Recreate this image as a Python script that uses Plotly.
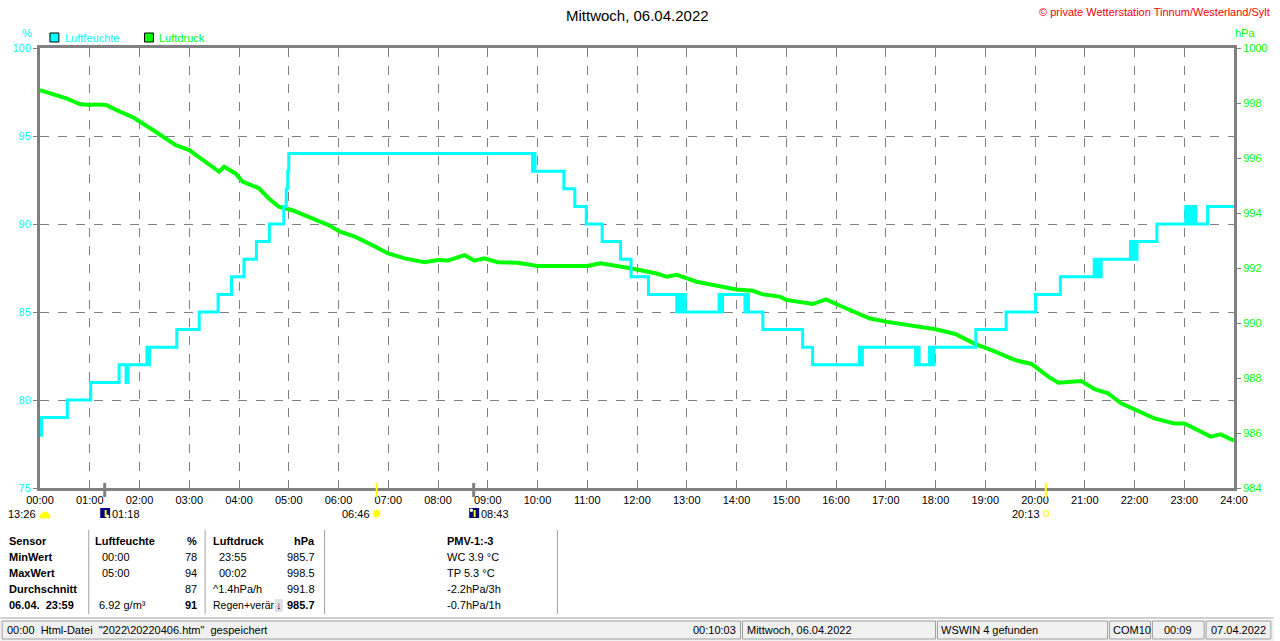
import math
import plotly.graph_objects as go

# humidity (%) - step changes, hour of day -> value
hum_hours = [0.0, 0.03, 0.55, 1.02, 1.59, 1.73, 1.77, 2.15, 2.18, 2.2, 2.75, 3.2, 3.58,
             3.85, 4.1, 4.35, 4.61, 4.9, 4.95, 4.98, 5.0, 9.9, 9.92, 9.95, 10.53, 10.75,
             10.98, 11.3, 11.67, 11.88, 12.23, 12.8, 12.84, 12.88, 12.93, 12.97, 13.65,
             13.68, 13.72, 14.17, 14.2, 14.24, 14.53, 15.33, 15.53, 16.47, 16.5, 16.53,
             17.6, 17.63, 17.67, 17.88, 17.92, 17.97, 18.81, 19.42, 20.01, 20.51, 21.19,
             21.23, 21.28, 21.3, 21.33, 21.92, 21.96, 22.0, 22.03, 22.05, 22.45, 23.03,
             23.07, 23.1, 23.15, 23.2, 23.23, 23.47, 24.0]
hum_vals = [78, 79, 80, 81, 82, 81, 82, 83, 82, 83, 84, 85, 86,
            87, 88, 89, 90, 91, 92, 93, 94, 93, 94, 93, 92, 91,
            90, 89, 88, 87, 86, 85, 86, 85, 86, 85, 86,
            85, 86, 85, 86, 85, 84, 83, 82, 83, 82, 83,
            82, 83, 82, 83, 82, 83, 84, 85, 86, 87, 88,
            87, 88, 87, 88, 89, 88, 89, 88, 89, 90, 91,
            90, 91, 90, 91, 90, 91, 91]

# air pressure (hPa)
pres_hours = [0.0, 0.2, 0.53, 0.8, 1.0, 1.13, 1.33, 1.53, 1.87, 2.27, 2.73, 3.0, 3.33,
              3.6, 3.7, 3.93, 4.07, 4.4, 4.6, 4.8, 5.07, 5.47, 5.8, 6.03, 6.33, 6.67,
              7.0, 7.33, 7.73, 8.0, 8.2, 8.53, 8.73, 8.93, 9.2, 9.6, 9.93, 10.0, 11.0,
              11.27, 11.87, 12.4, 12.6, 12.8, 13.2, 13.53, 14.0, 14.33, 14.53, 14.87,
              15.0, 15.53, 15.8, 16.13, 16.4, 16.67, 17.0, 17.4, 18.0, 18.4, 18.77,
              19.2, 19.6, 19.93, 20.27, 20.47, 20.93, 21.2, 21.47, 21.73, 22.0, 22.4,
              22.8, 23.0, 23.2, 23.53, 23.73, 23.97, 24.0]
pres_vals = [998.47, 998.35, 998.17, 997.96, 997.93, 997.95, 997.93, 997.75, 997.48,
             997.02, 996.47, 996.29, 995.87, 995.5, 995.68, 995.44, 995.14, 994.9,
             994.53, 994.23, 994.1, 993.8, 993.56, 993.32, 993.14, 992.84, 992.53,
             992.35, 992.21, 992.29, 992.27, 992.47, 992.27, 992.35, 992.21, 992.19,
             992.08, 992.07, 992.07, 992.17, 991.99, 991.8, 991.68, 991.75, 991.5,
             991.38, 991.22, 991.17, 991.04, 990.96, 990.84, 990.69, 990.86, 990.59,
             990.38, 990.17, 990.05, 989.93, 989.77, 989.6, 989.26, 988.96, 988.65,
             988.51, 988.05, 987.83, 987.89, 987.59, 987.44, 987.08, 986.86, 986.53,
             986.35, 986.35, 986.17, 985.87, 985.95, 985.75, 985.72]

hour_ticks = list(range(0, 25))
hour_labels = ["%02d:00" % h for h in hour_ticks]

# sun / moon events (hours)
moonrise_hours = [1.3, 8.717]
moonrise_labels = ["01:18", "08:43"]
sunrise_hour, sunrise_label = 6.767, "06:46"
sunset_hour, sunset_label = 20.217, "20:13"
moonset_label = "13:26"

# table
row_heads = ["Sensor", "MinWert", "MaxWert", "Durchschnitt", "06.04.  23:59"]
hum_times = ["Luftfeuchte", "00:00", "05:00", "", "6.92 g/m³"]
hum_cells = ["%", "78", "94", "87", "91"]
pres_times = ["Luftdruck", "23:55", "00:02", "^1.4hPa/h", "Regen+verär"]
pres_cells = ["hPa", "985.7", "998.5", "991.8", "985.7"]
pmv_cells = ["PMV-1:-3", "WC 3.9 °C", "TP 5.3 °C", "-2.2hPa/3h", "-0.7hPa/1h"]

status_texts = ["00:00\u00a0 Html-Datei\u00a0 \"2022\\20220406.htm\"\u00a0 gespeichert",
                "00:10:03", "Mittwoch, 06.04.2022", "WSWIN 4 gefunden", "COM10",
                "00:09", "07.04.2022"]

CYAN = "#00ffff"
GREEN = "#00ff00"
GRAY = "#808080"
FONT = "Liberation Sans, Arial, sans-serif"


def fx(p):
    return (p - 40) / 1200.0


def fy(p):
    return (488 - p) / 440.0


fig = go.Figure()
fig.add_trace(go.Scatter(x=pres_hours, y=pres_vals, mode="lines", yaxis="y",
                         line=dict(color=GREEN, width=4), showlegend=False))
fig.add_trace(go.Scatter(x=hum_hours, y=hum_vals, mode="lines", yaxis="y2",
                         line=dict(color=CYAN, width=3, shape="hv"), showlegend=False))

ann = []
shapes = []


def text(x, y, s, color="black", size=11, anchor="left", bold=False):
    ann.append(dict(x=fx(x), y=fy(y), xref="paper", yref="paper", showarrow=False,
                    text="<b>%s</b>" % s if bold else s, xanchor=anchor, yanchor="middle",
                    borderpad=0, font=dict(family=FONT, size=size, color=color)))


def rect(x0, y0, x1, y1, fill=None, line=None, lw=1):
    shapes.append(dict(type="rect", xref="paper", yref="paper",
                       x0=fx(x0), x1=fx(x1), y0=fy(y0), y1=fy(y1),
                       fillcolor=fill or "rgba(0,0,0,0)",
                       line=dict(color=line or "rgba(0,0,0,0)", width=lw if line else 0)))


def seg(x0, y0, x1, y1, color, w=1):
    shapes.append(dict(type="line", xref="paper", yref="paper",
                       x0=fx(x0), x1=fx(x1), y0=fy(y0), y1=fy(y1),
                       line=dict(color=color, width=w)))


# header texts
text(641, 15, "Mittwoch, 06.04.2022", size=15, anchor="center")
text(1277, 12, "© private Wetterstation Tinnum/Westerland/Sylt", color="#ff0000", anchor="right")
text(27, 33, "%", color=CYAN, anchor="center")
text(1240, 33, "hPa", color=GREEN)
rect(50, 33, 59, 42, fill=CYAN, line="black")
text(64, 38, "Luftfeuchte", color=CYAN)
rect(145, 33, 154, 42, fill=GREEN, line="black")
text(159, 38, "Luftdruck", color=GREEN)

# event markers on time axis
for h in moonrise_hours:
    shapes.append(dict(type="line", xref="x", yref="paper", x0=h, x1=h,
                       y0=fy(483), y1=fy(497), line=dict(color=GRAY, width=3)))
for h in (sunrise_hour, sunset_hour):
    shapes.append(dict(type="line", xref="x", yref="paper", x0=h, x1=h,
                       y0=fy(483), y1=fy(497), line=dict(color="#ffff00", width=2)))

# moonset-like icon below 00:00
arc = " ".join("L%.5f,%.5f" % (fx(45 + 5 * math.cos(a * math.pi / 12)),
                               fy(518 - 6 * math.sin(a * math.pi / 12))) for a in range(13))
shapes.append(dict(type="path", xref="paper", yref="paper", path="M" + arc[1:] + " Z",
                   fillcolor="#ffff00", line=dict(color="#ffff00", width=1)))
text(37, 514, moonset_label, anchor="right")

# moon icons
for i, h in enumerate(moonrise_hours):
    px = 40 + h * 50
    rect(px - 4.5, 508, px + 5.5, 518, fill="#000080")
    shapes.append(dict(type="circle", xref="paper", yref="paper",
                       x0=fx(px - 4 if i else px + 1), x1=fx(px - 0.5 if i else px + 4.5),
                       y0=fy(512 if i else 518), y1=fy(508.5 if i else 514.5),
                       fillcolor="white", line=dict(width=0)))
    seg(px + 1, 510, px + 1, 517, "#ffff00", 2)
    text(px + 6, 514, moonrise_labels[i])

# sun icon
sx = 40 + sunrise_hour * 50
for k in range(8):
    a = k * math.pi / 4
    seg(sx + 2.5 * math.cos(a), 513.5 + 2.5 * math.sin(a),
        sx + 5.5 * math.cos(a), 513.5 + 5.5 * math.sin(a), "#ffff80", 1)
shapes.append(dict(type="circle", xref="paper", yref="paper", x0=fx(sx - 3.5), x1=fx(sx + 3.5),
                   y0=fy(517), y1=fy(510), fillcolor="#ffff00", line=dict(width=0)))
text(sx - 6, 514, sunrise_label, anchor="right")

# sunset icon
ssx = 40 + sunset_hour * 50
rect(ssx - 2, 511, ssx + 2.5, 516, line="#ffff00")
text(ssx - 5, 514, sunset_label, anchor="right")

# table
row_y = [541, 557, 573, 589, 605]
for xs in (89, 206, 326, 560):
    seg(xs, 530, xs, 614, "#a0a0a0", 1)
for i, y in enumerate(row_y):
    text(8, y, row_heads[i], bold=True)
    head = i == 0
    text(94 if head else (98 if i == 4 else 101), y, hum_times[i], bold=head)
    text(199, y, hum_cells[i], anchor="right", bold=head or i == 4)
    text(213 if head or i >= 3 else 219, y, pres_times[i], bold=head,
         size=10.5 if i == 4 else 11)
    text(317, y, pres_cells[i], anchor="right", bold=head or i == 4)
    text(448, y, pmv_cells[i], bold=head)
rect(276, 599, 284, 612, fill="#e0e0e0")
text(280, 605, "↓", color="#000080", anchor="center", bold=True)

# status bar
seg(0, 618, 1280, 618, "#a0a0a0", 1)
rect(0, 620, 1280, 641, fill="#f0f0f0")
panels = [(2, 744), (746, 940), (942, 1113), (1115, 1156), (1158, 1210), (1212, 1277)]
for x0, x1 in panels:
    rect(x0, 621, x1, 639, line="#a0a0a0")
text(6, 630, status_texts[0])
text(741, 630, status_texts[1], anchor="right")
text(750, 630, status_texts[2])
text(945, 630, status_texts[3])
text(1117, 630, status_texts[4])
text(1184, 630, status_texts[5], anchor="center")
text(1245, 630, status_texts[6], anchor="center")

fig.update_layout(
    width=1280, height=641,
    margin=dict(l=40, r=40, t=48, b=153),
    paper_bgcolor="white", plot_bgcolor="white",
    font=dict(family=FONT, size=11, color="black"),
    showlegend=False,
    xaxis=dict(range=[0, 24], tickvals=hour_ticks, ticktext=hour_labels,
               showgrid=True, gridcolor=GRAY, griddash="dash", gridwidth=1,
               showline=True, linecolor=GRAY, linewidth=3, mirror=True,
               ticks="", zeroline=False, tickfont=dict(size=11, color="black")),
    yaxis=dict(range=[984, 1000], dtick=2, side="right", showgrid=False,
               showline=True, linecolor=GRAY, linewidth=3, ticks="outside",
               ticklen=4, tickcolor=GRAY, zeroline=False,
               tickfont=dict(size=11, color=GREEN)),
    yaxis2=dict(range=[75, 100], dtick=5, side="left", overlaying="y",
                showgrid=True, gridcolor=GRAY, griddash="dash", gridwidth=1,
                showline=True, linecolor=GRAY, linewidth=3, ticks="outside",
                ticklen=4, tickcolor=GRAY, zeroline=False,
                tickfont=dict(size=11, color=CYAN)),
    annotations=ann, shapes=shapes,
)

fig.write_html("out.html", config={"displayModeBar": False},
               post_script="document.body.style.margin='0';")
